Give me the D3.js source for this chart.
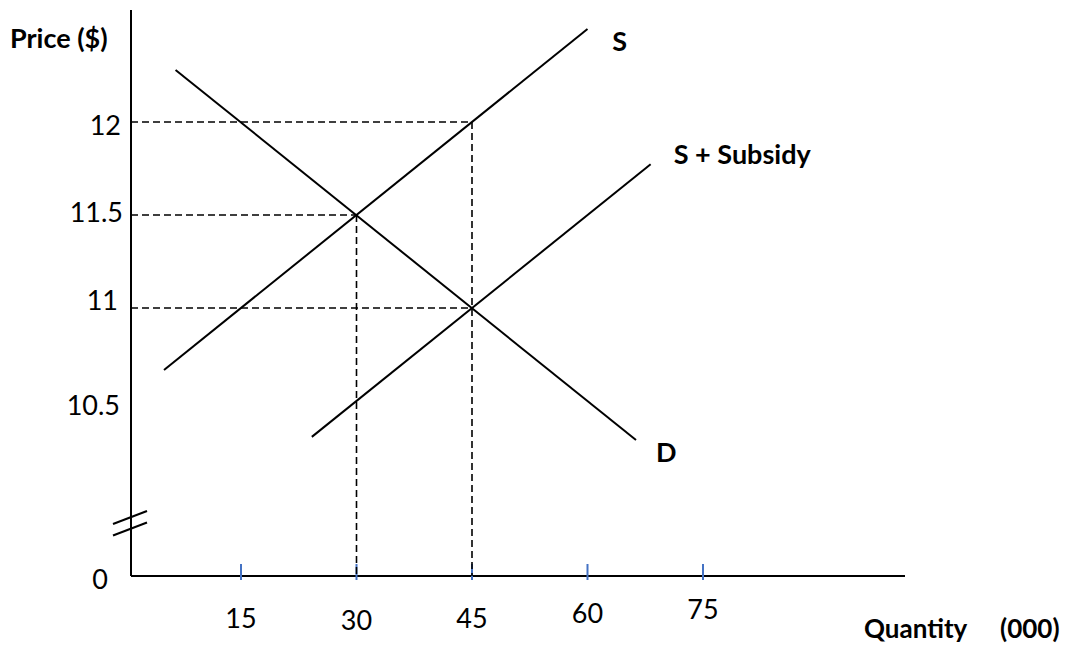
<!DOCTYPE html>
<html>
<head>
<meta charset="utf-8">
<script src="https://cdn.jsdelivr.net/npm/d3@7"></script>
<style>
  html, body { margin: 0; padding: 0; background: #fff; }
  svg { display: block; }
  text { font-family: Lato, "Open Sans", sans-serif; fill: #000; }
</style>
</head>
<body>
<script>
// ---- data ----
const xTicks = [15, 30, 45, 60, 75];
const yTicks = [10.5, 11, 11.5, 12];
const supply = [[5, 10.667], [60, 12.5]];
const demand = [[6.5, 12.28], [66.3, 10.29]];
const supplySubsidy = [[24.2, 10.307], [68.2, 11.773]];
const equilibria = [[30, 11.5], [45, 12], [45, 11]];
const curveLabels = [
  { text: "S", q: 63.2, p: 12.38 },
  { text: "S + Subsidy", q: 71.2, p: 11.775 },
  { text: "D", q: 68.9, p: 10.172 }
];

const W = 1078, H = 652;
const svg = d3.select("body").append("svg").attr("width", W).attr("height", H);

const x = d3.scaleLinear().domain([0, 75]).range([125.5, 703]);
const y = d3.scaleLinear().domain([0, 10, 12]).range([576, 494, 122]);

const axisX0 = 131, axisY0 = 576;
const FS = 27;

// axes
svg.append("line").attr("x1", axisX0).attr("x2", axisX0).attr("y1", 10).attr("y2", axisY0)
  .attr("stroke", "#000").attr("stroke-width", 2);
svg.append("line").attr("x1", axisX0).attr("x2", 905).attr("y1", axisY0).attr("y2", axisY0)
  .attr("stroke", "#000").attr("stroke-width", 2);

// axis break marks
[0, 11.5].forEach(dy => {
  svg.append("line").attr("x1", 113).attr("y1", 524 + dy).attr("x2", 147).attr("y2", 511 + dy)
    .attr("stroke", "#000").attr("stroke-width", 2);
});

// x ticks (blue)
svg.selectAll(".xt").data(xTicks).enter().append("line")
  .attr("x1", d => x(d)).attr("x2", d => x(d)).attr("y1", axisY0 - 12).attr("y2", axisY0 + 4)
  .attr("stroke", "#4472C4").attr("stroke-width", 2);

// x tick labels
const xLabelY = [628, 630, 628, 623, 619];
svg.selectAll(".xl").data(xTicks).enter().append("text")
  .attr("x", d => x(d)).attr("y", (d, i) => xLabelY[i])
  .attr("text-anchor", "middle").attr("font-size", FS).text(d => d);

// y tick labels
const yLabelOff = [14, 2, 7, 13];
const yLabelX = [120, 118, 123, 121];
svg.selectAll(".yl").data(yTicks).enter().append("text")
  .attr("x", (d, i) => yLabelX[i]).attr("y", (d, i) => y(d) + yLabelOff[i])
  .attr("text-anchor", "end").attr("font-size", FS).text(d => d);
svg.append("text").attr("x", 108).attr("y", y(0) + 13).attr("text-anchor", "end")
  .attr("font-size", FS).text("0");

// dashed guide lines
const dashG = svg.append("g").attr("stroke", "#000").attr("stroke-width", 1.6)
  .attr("stroke-dasharray", "7,4").attr("fill", "none");
equilibria.forEach(([q, p]) => {
  dashG.append("line").attr("x1", axisX0).attr("x2", x(q)).attr("y1", y(p)).attr("y2", y(p));
});
[[30, 11.5], [45, 12]].forEach(([q, p]) => {
  dashG.append("line").attr("x1", x(q)).attr("x2", x(q)).attr("y1", y(p)).attr("y2", y(0));
});

// curves
const line = d3.line().x(d => x(d[0])).y(d => y(d[1]));
[supply, demand, supplySubsidy].forEach(c => {
  svg.append("path").attr("d", line(c)).attr("fill", "none")
    .attr("stroke", "#000").attr("stroke-width", 2);
});

// curve labels
svg.selectAll(".cl").data(curveLabels).enter().append("text")
  .attr("x", d => x(d.q)).attr("y", d => y(d.p))
  .attr("font-size", FS).attr("font-weight", "bold").text(d => d.text);

// axis titles
svg.append("text").attr("x", 10).attr("y", 48).attr("font-size", FS)
  .attr("font-weight", "bold").text("Price ($)");
svg.append("text").attr("x", 864).attr("y", 638).attr("font-size", 26)
  .attr("font-weight", "bold").text("Quantity");
svg.append("text").attr("x", 1000).attr("y", 638).attr("font-size", 26)
  .attr("font-weight", "bold").text("(000)");
</script>
</body>
</html>
